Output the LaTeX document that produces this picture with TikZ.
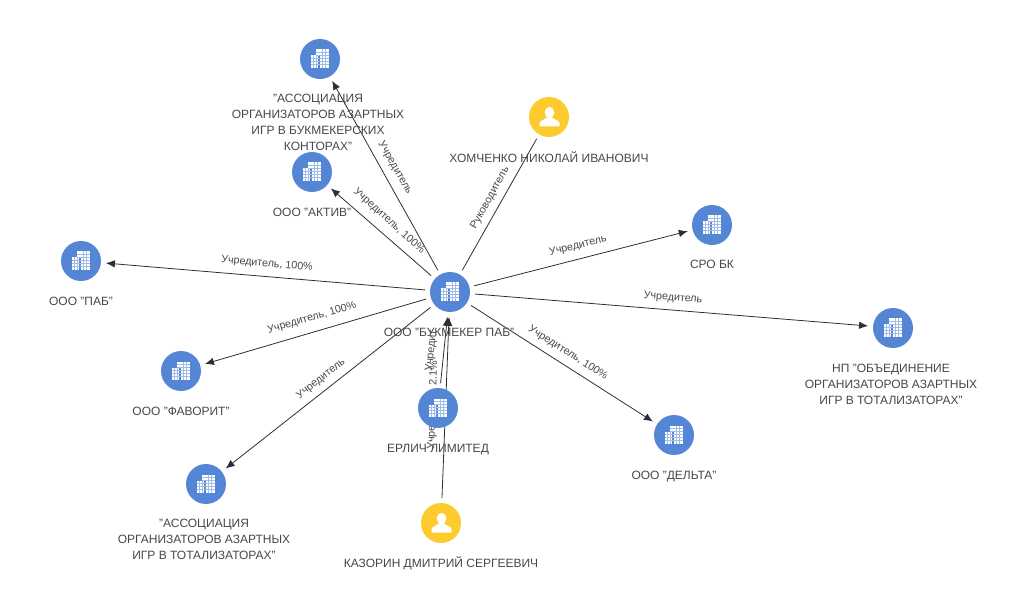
\documentclass[tikz,border=0pt]{standalone}
\usepackage{fontspec}
\setmainfont{Liberation Sans}
\usetikzlibrary{arrows.meta}
\pgfdeclarelayer{under}
\pgfsetlayers{under,main}
\definecolor{orgblue}{HTML}{5585D5}
\definecolor{peryel}{HTML}{FDCB2E}
\definecolor{txt}{HTML}{474747}
\definecolor{edgec}{HTML}{2B2F36}
\tikzset{
  x=1pt,y=-1pt,
  org/.style={circle,fill=orgblue,minimum size=40pt,inner sep=0pt,outer sep=5pt,
    path picture={
      \begin{scope}[shift={(path picture bounding box.center)}]
        \fill[white] (-9,-3.5) rectangle (-1,9);
        \fill[white] (-4,-9.5) rectangle (9,9);
        \draw[orgblue,line width=1.1pt] (-1,-4) -- (-1,9.5);
        \draw[orgblue,line width=1.1pt] (-4.6,-9.5) -- (-4.6,-3.5);
        \draw[orgblue!55,line width=.5pt]
          (-6.6,-3.5) -- (-6.6,9) (-4,-3.5) -- (-4,9) (2.4,-9.5) -- (2.4,9) (5.6,-9.5) -- (5.6,9)
          (-4,-6.4) -- (9,-6.4) (-4,-3.4) -- (9,-3.4) (-9,-0.4) -- (9,-0.4)
          (-9,2.6) -- (9,2.6) (-9,5.6) -- (9,5.6);
      \end{scope}}},
  per/.style={circle,fill=peryel,minimum size=40pt,inner sep=0pt,outer sep=5pt,
    path picture={
      \begin{scope}[shift={(path picture bounding box.center)}]
        \fill[white] (0.5,-4.5) ellipse (4.8 and 5.6);
        \fill[white] (-9.5,9.5) -- (-9.5,6.5) .. controls (-9.5,3.5) and (-4,2.5) .. (-1.5,0) -- (2.5,0) .. controls (5,2.5) and (10.5,3.5) .. (10.5,6.5) -- (10.5,9.5) -- cycle;
      \end{scope}}},
  lnk/.style={draw=edgec,line width=.8pt,-{Latex[length=9pt,width=7.5pt]}},
  plainlnk/.style={draw=edgec,line width=.8pt},
  lbl/.style={font=\fontsize{10.7}{12}\selectfont,text=txt,inner sep=0pt},
  captxt/.style={font=\fontsize{12}{16}\selectfont,text=txt,inner sep=0pt,align=center},
}
\begin{document}
\begin{tikzpicture}
\useasboundingbox (0,0) rectangle (1029,596);
\node[org] (main) at (450,292) {};
\node[org] (a1) at (320,59) {};
\node[org] (a2) at (312,172) {};
\node[per] (hom) at (549,117) {};
\node[org] (sro) at (712,225) {};
\node[org] (np) at (893,328) {};
\node[org] (delta) at (674,435) {};
\node[org] (erl) at (438,408) {};
\node[per] (kaz) at (441,523) {};
\node[org] (as2) at (206,484) {};
\node[org] (fav) at (181,371) {};
\node[org] (pab) at (81,261) {};
\begin{pgfonlayer}{under}
\draw[lnk] (main) -- (a1);
\draw[lnk] (main) -- (a2);
\draw[plainlnk] (main) -- (hom);
\draw[lnk] (main) -- (sro);
\draw[lnk] (main) -- (np);
\draw[lnk] (main) -- (delta);
\draw[lnk] (main) -- (as2);
\draw[lnk] (main) -- (fav);
\draw[lnk] (main) -- (pab);
\draw[lnk] (erl) -- (main);
\draw[lnk] (kaz) -- (main);
\node[lbl,rotate=-60] (e1) at (395,168) {Учредитель};
\node[lbl,rotate=-42] (e2) at (389,221) {Учредитель, 100\%};
\node[lbl,rotate=61] (e3) at (490,198) {Руководитель};
\node[lbl,rotate=13.5] (e4) at (578,246) {Учредитель};
\node[lbl,rotate=-4.5] (e5) at (673,298) {Учредитель};
\node[lbl,rotate=-32.7] (e6) at (568,353) {Учредитель, 100\%};
\node[lbl,rotate=-5] (e7) at (267,264) {Учредитель, 100\%};
\node[lbl,rotate=16] (e8) at (312,318) {Учредитель, 100\%};
\node[lbl,rotate=38] (e9) at (321,379) {Учредитель};
\node[lbl,rotate=84] (e10) at (431.5,351) {Учредит};
\node[lbl,rotate=88] (e11) at (433,405) {Учредитель, 2.1\%};
\end{pgfonlayer}
\node[captxt] (t0) at (449,332) {ООО "БУКМЕКЕР ПАБ"};
\node[captxt] (t1) at (318,122) {"АССОЦИАЦИЯ\\ОРГАНИЗАТОРОВ АЗАРТНЫХ\\ИГР В БУКМЕКЕРСКИХ\\КОНТОРАХ"};
\node[captxt] (t2) at (312,212) {ООО "АКТИВ"};
\node[captxt] (t3) at (549,157) {ХОМЧЕНКО НИКОЛАЙ ИВАНОВИЧ};
\node[captxt] (t4) at (712,264) {СРО БК};
\node[captxt] (t5) at (891,384) {НП "ОБЪЕДИНЕНИЕ\\ОРГАНИЗАТОРОВ АЗАРТНЫХ\\ИГР В ТОТАЛИЗАТОРАХ"};
\node[captxt] (t6) at (674,476.5) {ООО "ДЕЛЬТА"};
\node[captxt] (t7) at (438,450) {ЕРЛИЧ ЛИМИТЕД};
\node[captxt] (t8) at (441,563) {КАЗОРИН ДМИТРИЙ СЕРГЕЕВИЧ};
\node[captxt] (t9) at (204,539) {"АССОЦИАЦИЯ\\ОРГАНИЗАТОРОВ АЗАРТНЫХ\\ИГР В ТОТАЛИЗАТОРАХ"};
\node[captxt] (t10) at (181,411) {ООО "ФАВОРИТ"};
\node[captxt] (t11) at (81,301) {ООО "ПАБ"};
\end{tikzpicture}
\end{document}
